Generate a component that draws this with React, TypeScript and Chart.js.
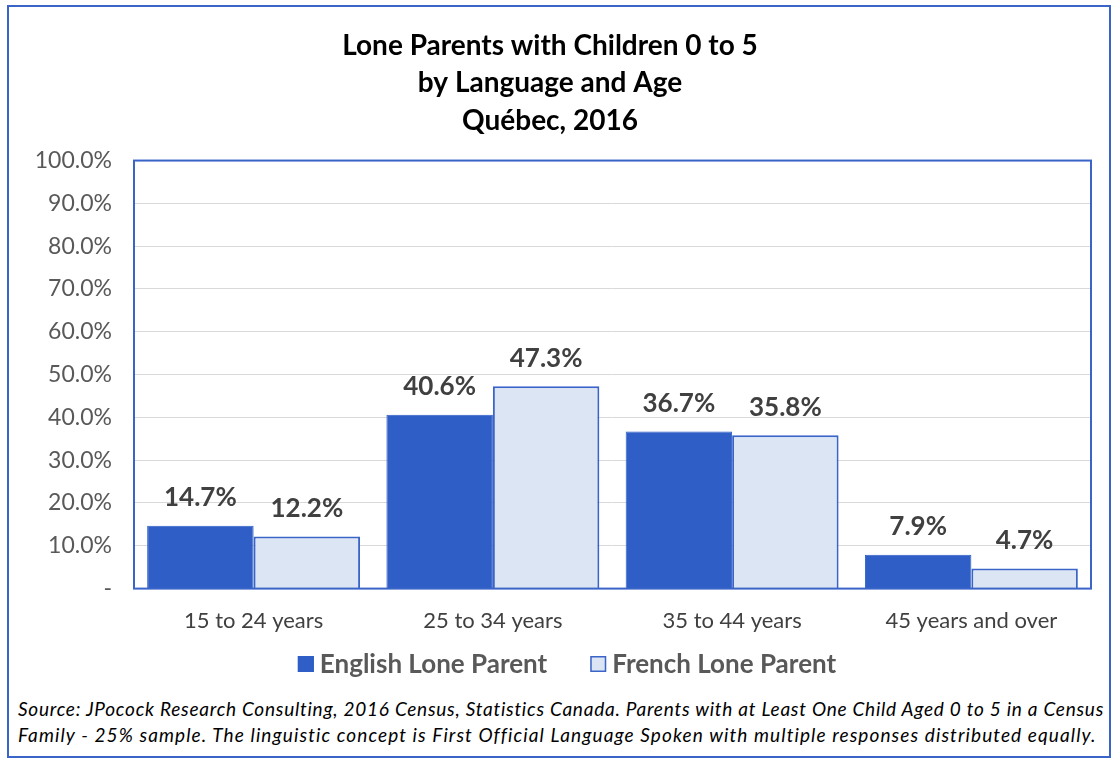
import React, { useEffect, useRef } from "react";
import { Chart, registerables } from "chart.js";

Chart.register(...registerables);

const categories = ["15 to 24 years", "25 to 34 years", "35 to 44 years", "45 years and over"];
const englishValues = [14.7, 40.6, 36.7, 7.9];
const frenchValues = [12.2, 47.3, 35.8, 4.7];
const titleLines = ["Lone Parents with Children 0 to 5", "by Language and Age", "Québec, 2016"];
const footnoteLines = [
  "Source: JPocock Research Consulting, 2016 Census, Statistics Canada. Parents with at Least One Child Aged 0 to 5 in a Census",
  "Family - 25% sample. The linguistic concept is First Official Language Spoken with multiple responses distributed equally.",
];
const footnoteSpacing = [0.75, 1.1];

const BLUE = "#2E5EC6";
const BORDER_BLUE = "#3A64C8";
const LIGHT = "#DCE5F4";
const FONT = "Lato, 'Open Sans', sans-serif";

const plotBorder = {
  id: "plotBorder",
  afterDatasetsDraw(chart: any) {
    const { ctx, chartArea } = chart;
    ctx.save();
    ctx.strokeStyle = BORDER_BLUE;
    ctx.lineWidth = 2;
    ctx.strokeRect(chartArea.left, chartArea.top, chartArea.right - chartArea.left, chartArea.bottom - chartArea.top);
    ctx.restore();
  },
};

const dataLabels = {
  id: "dataLabels",
  afterDatasetsDraw(chart: any) {
    const { ctx } = chart;
    ctx.save();
    ctx.font = `bold 26px ${FONT}`;
    ctx.fillStyle = "#404040";
    ctx.textAlign = "center";
    ctx.textBaseline = "middle";
    chart.data.datasets.forEach((ds: any, i: number) => {
      const meta = chart.getDatasetMeta(i);
      meta.data.forEach((bar: any, j: number) => {
        ctx.fillText(ds.data[j].toFixed(1) + "%", bar.x, bar.y - 28);
      });
    });
    ctx.restore();
  },
};

const customLegend = {
  id: "customLegend",
  afterDraw(chart: any) {
    const { ctx } = chart;
    const ds = chart.data.datasets;
    ctx.save();
    ctx.font = `bold 26px ${FONT}`;
    ctx.textBaseline = "middle";
    ctx.textAlign = "left";
    const box = 16;
    const gapBoxText = 6;
    const gapItems = 43;
    const widths = ds.map((d: any) => ctx.measureText(d.label).width);
    const total = widths.reduce((a: number, w: number) => a + box + gapBoxText + w, 0) + gapItems * (ds.length - 1);
    let x = 558 - total / 2;
    const y = 657;
    ds.forEach((d: any, i: number) => {
      ctx.fillStyle = d.backgroundColor;
      ctx.fillRect(x, y - box / 2, box, box);
      ctx.strokeStyle = d.borderColor;
      ctx.lineWidth = 1.5;
      ctx.strokeRect(x + 0.75, y - box / 2 + 0.75, box - 1.5, box - 1.5);
      x += box + gapBoxText;
      ctx.fillStyle = "#595959";
      ctx.fillText(d.label, x, y + 1);
      x += widths[i] + gapItems;
    });
    ctx.restore();
  },
};

export default function App() {
  const ref = useRef<HTMLCanvasElement>(null);
  useEffect(() => {
    if (!ref.current) return;
    const chart = new Chart(ref.current, {
      type: "bar",
      data: {
        labels: categories,
        datasets: [
          {
            label: "English Lone Parent",
            data: englishValues,
            backgroundColor: BLUE,
            borderColor: BLUE,
            borderWidth: 1,
            categoryPercentage: 0.89,
            barPercentage: 1,
          },
          {
            label: "French Lone Parent",
            data: frenchValues,
            backgroundColor: LIGHT,
            borderColor: BORDER_BLUE,
            borderWidth: 2,
            categoryPercentage: 0.89,
            barPercentage: 1,
          },
        ],
      },
      options: {
        animation: false,
        responsive: true,
        maintainAspectRatio: false,
        layout: { padding: { left: 0, right: 18, top: 0, bottom: 45 } },
        plugins: {
          title: {
            display: true,
            text: titleLines,
            color: "#000",
            font: { family: FONT, size: 28, weight: "bold", lineHeight: 1.34 },
            padding: { top: 20, bottom: 21 },
          },
          legend: { display: false },
          tooltip: { enabled: false },
        },
        scales: {
          x: {
            grid: { display: false },
            border: { display: false },
            ticks: { color: "#404040", font: { family: FONT, size: 22 }, padding: 11 },
          },
          y: {
            min: 0,
            max: 100,
            afterFit(scale: any) {
              scale.width = 125;
            },
            grid: { color: "#D9D9D9", lineWidth: 1, drawTicks: false },
            border: { display: false },
            ticks: {
              stepSize: 10,
              color: "#595959",
              font: { family: FONT, size: 23 },
              padding: 22,
              callback: (v: any) => (v === 0 ? "-" : Number(v).toFixed(1) + "%"),
            },
          },
        },
      },
      plugins: [plotBorder, dataLabels, customLegend],
    });
    return () => chart.destroy();
  }, []);

  return (
    <div
      style={{
        position: "absolute",
        left: 7,
        top: 5,
        width: 1100,
        height: 749,
        border: `2px solid ${BORDER_BLUE}`,
        background: "#fff",
      }}
    >
      <div style={{ position: "relative", width: 1100, height: 683 }}>
        <canvas ref={ref} />
      </div>
      <div
        style={{
          fontFamily: FONT,
          fontStyle: "italic",
          fontSize: 19,
          color: "#000",
          paddingLeft: 9,
          lineHeight: "26px",
          marginTop: 6,
          whiteSpace: "nowrap",
        }}
      >
        {footnoteLines.map((l, i) => (
          <div key={i} style={{ letterSpacing: footnoteSpacing[i] }}>
            {l}
          </div>
        ))}
      </div>
    </div>
  );
}
